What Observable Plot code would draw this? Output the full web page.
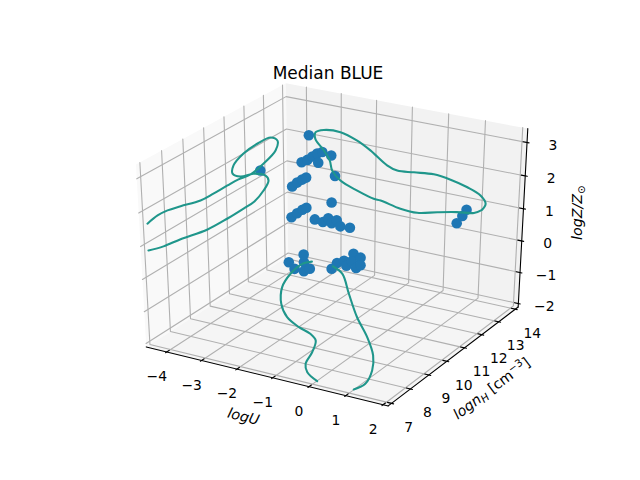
<!DOCTYPE html>
<html><head><meta charset="utf-8">
<style>html,body{margin:0;padding:0;background:#fff}svg{display:block}</style>
<script src="https://cdn.jsdelivr.net/npm/d3@7"></script>
<script src="https://cdn.jsdelivr.net/npm/@observablehq/plot@0.6"></script>
</head><body><script>
// Axis limits and ticks
const xlim=[-4.46,2.0], ylim=[6.97,14.03], zlim=[-2.0,3.3];
const xticks=[-4,-3,-2,-1,0,1,2], yticks=[7,8,9,10,11,12,13,14], zticks=[-2,-1,0,1,2,3];
// Contour on the logU wall: logn_H, logZ
const leftN=[7.17,7.87,8.69,10.01,11.02,11.85,12.42,12.91,13.18,13.03,12.40,11.74,11.34,11.40,11.92,12.65,13.33,13.69,13.58,12.93,12.25,11.63,11.07,10.36,9.72,8.76,8.14,7.67,7.19];
const leftZ=[0.75,0.61,0.52,0.33,0.30,0.31,0.33,0.50,0.72,0.93,1.21,1.35,1.58,1.81,2.00,2.06,2.02,1.80,1.53,1.34,1.24,1.30,1.31,1.31,1.33,1.50,1.60,1.62,1.55];
// Contour on the logn_H wall: logU, logZ
const backU=[1.01,0.79,0.32,-0.23,-0.80,-1.28,-1.85,-2.05,-2.53,-3.02,-3.26,-3.33,-3.50,-3.75,-3.74,-3.50,-3.02,-2.54,-2.16,-1.68,-1.39,-0.92,-0.36,0.11,0.58,0.95,1.10,1.01];
const backZ=[0.71,0.56,0.48,0.35,0.20,0.22,0.35,0.36,0.51,0.72,0.98,1.28,1.56,1.87,2.08,2.20,2.23,2.07,1.85,1.49,1.39,1.44,1.50,1.44,1.31,1.14,0.92,0.71];
// Contours on the floor: logU, logn_H
const floorAU=[-3.87,-4.01,-3.93,-3.66,-3.12,-2.56,-1.99,-1.54,-1.22,-0.94,-0.73,-0.45,0.01];
const floorAN=[14.17,13.89,13.09,12.14,11.11,10.40,9.98,9.75,9.44,8.73,8.00,7.57,7.22];
const floorBU=[-3.24,-2.77,-1.97,-1.05,-0.23,0.43,0.84,1.07,0.99];
const floorBN=[14.17,13.82,12.66,11.35,10.32,9.36,8.51,7.70,7.25];
// Scatter points: logU, logn_H, logZ
const dotU=[-4.37,-4.01,-4.03,-3.72,-3.67,-3.18,-4.125,-3.12,-2.91,-2.84,-2.63,-2.68,-2.55,-2.42,-2.42,
 -3.94,-4.16,-3.99,-3.84,-3.70,-3.55,-3.67,-3.29,-3.18,-4.45,-4.30,-4.15,-4.03,-3.28,-4.48,-4.31,-4.15,-4.03,-3.78,-3.54,-3.38,-3.28,-3.13,-3.02,-2.74,0.58,0.47,0.32,-4.6];
const dotN=[13.80,13.46,14.02,13.44,13.68,13.99,14.18,14.18,14.18,14.18,14.18,14.18,14.18,14.18,14.18,
 14.18,14.18,14.18,14.18,14.18,14.18,14.18,14.18,14.18,14.18,14.18,14.18,14.18,14.18,14.18,14.18,14.18,14.18,14.18,14.18,14.18,14.18,14.18,14.18,14.18,14.18,14.18,14.18,12.77];
const dotZ=[-2.11,-2.11,-2.11,-2.11,-2.11,-2.11,-1.94,-1.98,-1.85,-2.0,-1.55,-1.81,-2.0,-1.63,-1.88,
 1.94,1.05,1.16,1.30,1.42,1.50,1.14,1.45,0.83,0.21,0.37,0.50,0.59,-0.04,-0.79,-0.62,-0.47,-0.38,-0.70,-0.73,-0.57,-0.71,-0.58,-0.75,-0.73,0.61,0.39,0.13,1.18];

// mplot3d view: elevation 30, azimuth -60, distance 10, on a unit cube
const S=[[.866025,.5,0],[-.25,.433013,.866025],[.433013,-.75,.5]];
function pw(w){const d=w.map(v=>v-.5);
 const a=S[0][0]*d[0]+S[0][1]*d[1],b=S[1][0]*d[0]+S[1][1]*d[1]+S[1][2]*d[2],c=S[2][0]*d[0]+S[2][1]*d[1]+S[2][2]*d[2];
 return [a/(10-c),b/(10-c)];}
const nx=v=>(v-xlim[0])/(xlim[1]-xlim[0]),ny=v=>(v-ylim[0])/(ylim[1]-ylim[0]),nz=v=>(v-zlim[0])/(zlim[1]-zlim[0]);
const lo=-1/48,hi=49/48,d12=1/12;
const P=(a,b,c)=>pw([a,b,c]);
const D=(u,n,z)=>pw([nx(u),ny(n),nz(z)]);
const wallU=xlim[0]-(xlim[1]-xlim[0])/48, wallN=ylim[1]+(ylim[1]-ylim[0])/48, wallZ=zlim[0]-(zlim[1]-zlim[0])/48;
const panes=[
 {c:[P(lo,lo,lo),P(lo,hi,lo),P(lo,hi,hi),P(lo,lo,hi),P(lo,lo,lo)],f:'#f9f9f9'},
 {c:[P(lo,hi,lo),P(hi,hi,lo),P(hi,hi,hi),P(lo,hi,hi),P(lo,hi,lo)],f:'#f2f2f2'},
 {c:[P(lo,lo,lo),P(hi,lo,lo),P(hi,hi,lo),P(lo,hi,lo),P(lo,lo,lo)],f:'#f5f5f5'}];
const grid=[];
xticks.forEach(t=>grid.push([P(nx(t),lo,lo),P(nx(t),hi,lo),P(nx(t),hi,hi)]));
yticks.forEach(t=>grid.push([P(hi,ny(t),lo),P(lo,ny(t),lo),P(lo,ny(t),hi)]));
zticks.forEach(t=>grid.push([P(lo,lo,nz(t)),P(lo,hi,nz(t)),P(hi,hi,nz(t))]));
const axes=[[P(lo,lo,lo),P(hi,lo,lo)],[P(hi,lo,lo),P(hi,hi,lo)],[P(hi,hi,lo),P(hi,hi,hi)]];
xticks.forEach(t=>axes.push([P(nx(t),lo+.2*d12,lo),P(nx(t),lo-.1*d12,lo)]));
yticks.forEach(t=>axes.push([P(hi-.2*d12,ny(t),lo),P(hi+.1*d12,ny(t),lo)]));
zticks.forEach(t=>axes.push([P(hi-.2*d12,hi,nz(t)),P(hi+.1*d12,hi,nz(t))]));
const rows=arr=>arr.flatMap((l,i)=>l.map(p=>({x:p[0],y:p[1],i})));
const contours=[
 leftN.map((n,i)=>D(wallU,n,leftZ[i])),
 backU.map((u,i)=>D(u,wallN,backZ[i])),
 floorAU.map((u,i)=>D(u,floorAN[i],wallZ)),
 floorBU.map((u,i)=>D(u,floorBN[i],wallZ))];
const dots=dotU.map((u,i)=>D(u,dotN[i],dotZ[i]));
const marks=[];
panes.forEach(p=>marks.push(Plot.line(p.c,{x:d=>d[0],y:d=>d[1],fill:p.f,stroke:'none'})));
marks.push(Plot.line(rows(grid),{x:'x',y:'y',z:'i',stroke:'#b0b0b0',strokeWidth:1.1}));
marks.push(Plot.line(rows(axes),{x:'x',y:'y',z:'i',stroke:'#000',strokeWidth:1.1}));
marks.push(Plot.dot(dots,{x:d=>d[0],y:d=>d[1],r:5.3,fill:'#1f77b4'}));
marks.push(Plot.line(rows(contours),{x:'x',y:'y',z:'i',stroke:'#1f968b',strokeWidth:2.08,curve:'catmull-rom'}));
const font={fontSize:13.9,fill:'#000'};
const tl=(arr,pos,dx,dy)=>Plot.text(arr,{x:t=>pos(t)[0],y:t=>pos(t)[1],text:t=>String(t).replace('-','\u2212'),dx,dy,...font});
marks.push(tl(xticks,t=>P(nx(t),lo,lo),-10,25));
marks.push(tl(yticks,t=>P(hi,ny(t),lo),17,24));
marks.push(tl(zticks,t=>P(hi,hi,nz(t)),26,3));
const label=(pos,txt,dx,dy,rotate)=>Plot.text([pos],{x:d=>d[0],y:d=>d[1],text:()=>txt,dx,dy,rotate,fontSize:14.3,fill:'#000'});
marks.push(label(P(.5,lo,lo),'logU',-21,41,14));
marks.push(label(P(hi,.5,lo),'lognH',36,34,-37));
marks.push(label(P(hi,hi,.5),'logZZsun',54.6,-7.5,-90));
marks.push(Plot.text(['Median BLUE'],{frameAnchor:'top',lineAnchor:'top',text:d=>d,dx:7.5,dy:66,fontSize:17,fill:'#000'}));
const fig=Plot.plot({width:640,height:480,margin:0,x:{domain:[-.095,.09],range:[80,576],axis:null},y:{domain:[-.095,.09],range:[428.1,58.5],axis:null},style:{fontFamily:'DejaVu Sans',background:'#fff'},marks});
const spans={
 'logU':[['logU',{'font-style':'italic'}]],
 'lognH':[['logn',{'font-style':'italic'}],['H',{'font-style':'italic','font-size':'10.5px',dy:'2.5'}],['\u00a0[cm',{dy:'-2.5'}],['\u22123',{'font-size':'10.5px',dy:'-5'}],[']',{dy:'5'}]],
 'logZZsun':[['logZ/Z',{'font-style':'italic'}],['\u2299',{'font-size':'10.5px',dy:'2.5'}]]};
d3.select(fig).selectAll('text').each(function(){
 const t=this.textContent; if(!spans[t]) return;
 const el=d3.select(this); el.text('');
 spans[t].forEach(([s,a])=>{const ts=el.append('tspan').text(s);Object.entries(a).forEach(([k,v])=>ts.attr(k,v));});
});
document.body.append(fig);
</script></body></html>
